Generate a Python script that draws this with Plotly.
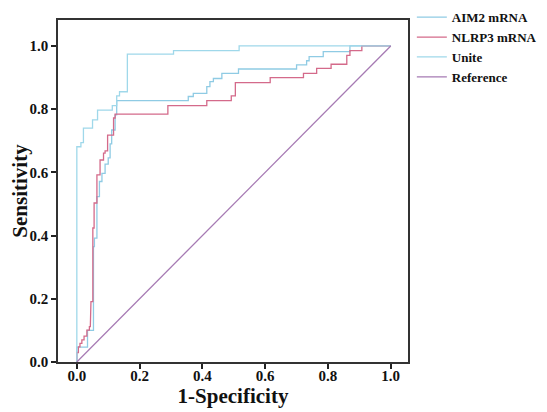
import plotly.graph_objects as go

# ROC curve vertices (1-Specificity, Sensitivity)
aim2_fpr = [0, 0, 0.034, 0.034, 0.053, 0.053, 0.056, 0.056, 0.064, 0.064, 0.072, 0.072,
            0.08, 0.08, 0.09, 0.09, 0.1, 0.1, 0.106, 0.106, 0.111, 0.111, 0.122, 0.122,
            0.127, 0.127, 0.355, 0.355, 0.371, 0.371, 0.414, 0.414, 0.424, 0.424,
            0.435, 0.435, 0.462, 0.462, 0.515, 0.515, 0.70, 0.70, 0.732, 0.732,
            0.74, 0.74, 0.785, 0.785, 0.87, 0.87, 1.0]
aim2_tpr = [0, 0.047, 0.047, 0.10, 0.10, 0.365, 0.365, 0.392, 0.392, 0.523, 0.523, 0.571,
            0.571, 0.597, 0.597, 0.626, 0.626, 0.646, 0.646, 0.69, 0.69, 0.734, 0.734, 0.782,
            0.782, 0.827, 0.827, 0.84, 0.84, 0.85, 0.85, 0.871, 0.871, 0.887,
            0.887, 0.897, 0.897, 0.913, 0.913, 0.927, 0.927, 0.94, 0.94, 0.953,
            0.953, 0.966, 0.966, 0.982, 0.982, 1.0, 1.0]

nlrp3_fpr = [0, 0, 0.005, 0.005, 0.01, 0.01, 0.016, 0.016, 0.023, 0.023, 0.032, 0.032,
             0.04, 0.04, 0.043, 0.043, 0.045, 0.045, 0.051, 0.051, 0.055, 0.055, 0.064, 0.064,
             0.074, 0.074, 0.085, 0.085, 0.09, 0.09, 0.098, 0.098, 0.117, 0.117, 0.122, 0.122,
             0.29, 0.29, 0.414, 0.414, 0.492, 0.492, 0.505, 0.505, 0.616, 0.616,
             0.722, 0.722, 0.764, 0.764, 0.81, 0.81, 0.86, 0.86, 0.87, 0.87, 0.908, 0.908, 1.0]
nlrp3_tpr = [0, 0.03, 0.03, 0.048, 0.048, 0.059, 0.059, 0.07, 0.07, 0.082, 0.082, 0.101,
             0.101, 0.112, 0.112, 0.165, 0.165, 0.191, 0.191, 0.424, 0.424, 0.503, 0.503, 0.592,
             0.592, 0.639, 0.639, 0.661, 0.661, 0.668, 0.668, 0.718, 0.718, 0.772, 0.772, 0.784,
             0.784, 0.811, 0.811, 0.827, 0.827, 0.842, 0.842, 0.884, 0.884, 0.90,
             0.90, 0.913, 0.913, 0.929, 0.929, 0.942, 0.942, 0.97, 0.97, 0.985, 0.985, 1.0, 1.0]

unite_fpr = [0, 0, 0.013, 0.013, 0.021, 0.021, 0.05, 0.05, 0.066, 0.066, 0.113, 0.113,
             0.127, 0.127, 0.136, 0.136, 0.161, 0.161, 0.308, 0.308, 0.517, 0.517, 1.0]
unite_tpr = [0, 0.681, 0.681, 0.694, 0.694, 0.740, 0.740, 0.766, 0.766, 0.797, 0.797, 0.811,
             0.811, 0.842, 0.842, 0.855, 0.855, 0.974, 0.974, 0.985, 0.985, 1.0, 1.0]

ref_x = [0, 1]
ref_y = [0, 1]

tick_vals = [0, 0.2, 0.4, 0.6, 0.8, 1.0]
tick_text = ["0.0", "0.2", "0.4", "0.6", "0.8", "1.0"]

FONT = "Liberation Serif, Times New Roman, serif"

fig = go.Figure()
fig.add_trace(go.Scatter(x=aim2_fpr, y=aim2_tpr, mode="lines", name="AIM2 mRNA",
                         line=dict(color="#8fcbe4", width=1.3)))
fig.add_trace(go.Scatter(x=nlrp3_fpr, y=nlrp3_tpr, mode="lines", name="NLRP3 mRNA",
                         line=dict(color="#d46a8a", width=1.3)))
fig.add_trace(go.Scatter(x=unite_fpr, y=unite_tpr, mode="lines", name="Unite",
                         line=dict(color="#9fd8ea", width=1.3)))
fig.add_trace(go.Scatter(x=ref_x, y=ref_y, mode="lines", name="Reference",
                         line=dict(color="#a67ab3", width=1.3)))

axis_common = dict(
    showgrid=False, zeroline=False, showline=True, linecolor="#333333", linewidth=1.6,
    mirror=True, ticks="outside", ticklen=5, tickwidth=1.5, tickcolor="#222222",
    tickfont=dict(family=FONT, size=15, color="#111111", weight="bold"),
    tickvals=tick_vals, ticktext=tick_text, automargin=False,
)

# the page body adds an 8px margin, so the figure is 8px smaller than the window
fig.update_layout(
    width=539, height=404,
    margin=dict(l=50, r=139, t=12, b=50, autoexpand=False),
    paper_bgcolor="white", plot_bgcolor="white",
    font=dict(family=FONT, color="#111111"),
    xaxis=dict(range=[-0.06, 1.055], **axis_common, ticklabelstandoff=-6,
               title=dict(text="1-Specificity", standoff=0,
                          font=dict(family=FONT, size=21, weight="bold", color="#111111"))),
    yaxis=dict(range=[0, 1.082], **axis_common,
               title=dict(text="Sensitivity", standoff=1,
                          font=dict(family=FONT, size=21, weight="bold", color="#111111"))),
    showlegend=True,
    legend=dict(x=1.011, y=1.052, xanchor="left", yanchor="top",
                font=dict(family=FONT, size=13, weight="bold", color="#111111"),
                bgcolor="rgba(0,0,0,0)", borderwidth=0, itemwidth=30,
                tracegroupgap=0),
)

fig.write_html("out.html")
